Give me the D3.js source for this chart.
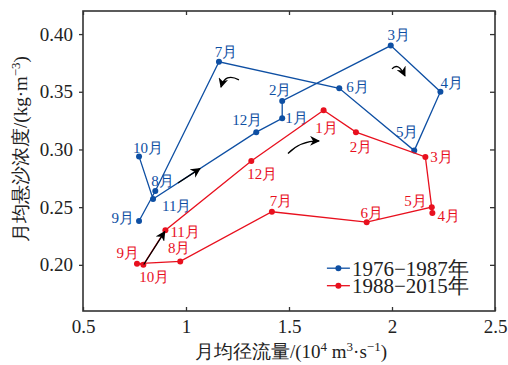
<!DOCTYPE html>
<html>
<head>
<meta charset="utf-8">
<script src="https://cdn.jsdelivr.net/npm/d3@7/dist/d3.min.js"></script>
</head>
<body style="margin:0;background:#fff">
<svg id="chart" width="508" height="365" style="display:block"></svg>
<script>
// Monthly mean runoff (10^4 m3/s) and suspended sediment concentration (kg/m3)
const months = ["1月","2月","3月","4月","5月","6月","7月","8月","9月","10月","11月","12月"];
const flowEarly = [1.467, 1.467, 1.994, 2.235, 2.108, 1.744, 1.160, 0.851, 0.772, 0.772, 0.840, 1.341];
const sscEarly  = [0.327, 0.342, 0.390, 0.350, 0.299, 0.353, 0.376, 0.264, 0.238, 0.294, 0.257, 0.315];
const flowLate  = [1.668, 1.825, 2.162, 2.196, 2.193, 1.877, 1.417, 0.972, 0.762, 0.793, 0.900, 1.317];
const sscLate   = [0.334, 0.315, 0.2935, 0.245, 0.250, 0.237, 0.246, 0.203, 0.201, 0.200, 0.230, 0.290];
// month order along each trajectory (month numbers)
const orderEarly = [10, 11, 12, 1, 2, 3, 4, 5, 6, 7, 8, 9];
const orderLate  = [1, 2, 3, 4, 5, 6, 7, 8, 9, 10, 11, 12, 1];
const seriesNames = ["1976−1987年", "1988−2015年"];
const xTicks = [0.5, 1, 1.5, 2, 2.5];
const xTickLabels = ["0.5", "1", "1.5", "2", "2.5"];
const yTicks = [0.20, 0.25, 0.30, 0.35, 0.40];
const yTickLabels = ["0.20", "0.25", "0.30", "0.35", "0.40"];

// label placement per month: [anchor, dx, dy]
const labelPosEarly = [
  ["start", 3, 5], ["middle", -2, -6], ["middle", 8, -6], ["start", 0, -4],
  ["middle", -7, -14], ["start", 7, 4], ["middle", 7, -5], ["start", -4, -5],
  ["end", -5, 2], ["middle", 9, -3], ["start", 9, 12], ["middle", -9, -7]
];
const labelPosLate = [
  ["middle", 3, 23], ["middle", 5, 20], ["start", 5, 5], ["start", 5, 8],
  ["end", -5, -1], ["middle", 5, -4], ["middle", 9, -6], ["middle", -1, -8],
  ["end", 2, -6], ["middle", 11, 17], ["start", 5, 7], ["start", -4, 18]
];

// direction arrows in data units: [x0, y0, cx, cy, x1, y1] (cx/cy null = straight)
const arrows = [
  [1.257, 0.3603, 1.190, 0.3668, 1.170, 0.3540],
  [2.000, 0.3699, 2.030, 0.3760, 2.063, 0.3638],
  [1.495, 0.2965, 1.555, 0.3075, 1.646, 0.3074],
  [0.961, 0.2709, null, null, 1.068, 0.2834],
  [0.795, 0.2003, null, null, 0.897, 0.2288]
];

const FONT = "Liberation Serif";
const colorEarly = "#0e4fa3";
const colorLate = "#e8101e";
const axisColor = "#333";

const svg = d3.select("#chart");
const margin = { left: 83, right: 13, top: 11, bottom: 54 };
const W = 508, H = 365;
const x = d3.scaleLinear().domain([0.5, 2.5]).range([margin.left, W - margin.right]);
const y = d3.scaleLinear().domain([0.16, 0.42]).range([H - margin.bottom, margin.top]);

const x0 = x.range()[0], x1 = x.range()[1];
const yb = y.range()[0], yt = y.range()[1];

// arrow head marker
const defs = svg.append("defs");
defs.append("marker")
  .attr("id", "head")
  .attr("viewBox", "0 0 10 10")
  .attr("refX", 9).attr("refY", 5)
  .attr("markerWidth", 10).attr("markerHeight", 10)
  .attr("markerUnits", "userSpaceOnUse")
  .attr("orient", "auto")
  .append("path")
  .attr("d", "M0,0 L10,5 L0,10 L3,5 Z")
  .attr("fill", "#000");

// axes
const gx = svg.append("g").attr("transform", `translate(0,${yb})`)
  .call(d3.axisBottom(x).tickValues(xTicks).tickFormat((d, i) => xTickLabels[i]).tickSize(-4).tickPadding(9));
const gxTop = svg.append("g").attr("transform", `translate(0,${yt})`)
  .call(d3.axisTop(x).tickValues(xTicks).tickFormat("").tickSize(-4));
const gy = svg.append("g").attr("transform", `translate(${x0},0)`)
  .call(d3.axisLeft(y).tickValues(yTicks).tickFormat((d, i) => yTickLabels[i]).tickSize(4).tickPadding(6));
const gyR = svg.append("g").attr("transform", `translate(${x1},0)`)
  .call(d3.axisRight(y).tickValues(yTicks).tickFormat("").tickSize(-5));

[gx, gxTop, gy, gyR].forEach(g => {
  g.attr("font-family", null).attr("font-size", null);
  g.select(".domain").remove();
  g.selectAll(".tick line").attr("stroke", axisColor).attr("stroke-width", 1.3);
  g.selectAll(".tick text").attr("fill", "#222").attr("font-size", 19);
});

svg.append("rect")
  .attr("x", x0).attr("y", yt).attr("width", x1 - x0).attr("height", yb - yt)
  .attr("fill", "none").attr("stroke", axisColor).attr("stroke-width", 1.6);

// axis titles
const xt = svg.append("text")
  .attr("x", (x0 + x1) / 2 + 2).attr("y", 358)
  .attr("text-anchor", "middle").attr("fill", "#222").attr("font-size", 19);
xt.append("tspan").text("月均径流量/(10");
xt.append("tspan").attr("dy", -7).attr("font-size", 13).text("4");
xt.append("tspan").attr("dy", 7).text(" m");
xt.append("tspan").attr("dy", -7).attr("font-size", 13).text("3");
xt.append("tspan").attr("dy", 7).text("·s");
xt.append("tspan").attr("dy", -7).attr("font-size", 13).text("−1");
xt.append("tspan").attr("dy", 7).text(")");

const yt2 = svg.append("text")
  .attr("transform", `translate(27,${(yt + yb) / 2 - 12}) rotate(-90)`)
  .attr("text-anchor", "middle").attr("fill", "#222").attr("font-size", 19);
yt2.append("tspan").text("月均悬沙浓度/(kg·m");
yt2.append("tspan").attr("dy", -7).attr("font-size", 13).text("−3");
yt2.append("tspan").attr("dy", 7).text(")");

// trajectories
function drawSeries(flow, ssc, order, color, labelPos) {
  const pts = flow.map((f, i) => ({ m: months[i], x: f, y: ssc[i], i }));
  const line = d3.line().x(d => x(d.x)).y(d => y(d.y));
  svg.append("path")
    .datum(order.map(k => pts[k - 1]))
    .attr("d", line)
    .attr("fill", "none").attr("stroke", color).attr("stroke-width", 1.3);
  svg.append("g").selectAll("circle").data(pts).join("circle")
    .attr("cx", d => x(d.x)).attr("cy", d => y(d.y)).attr("r", 3)
    .attr("fill", color);
  svg.append("g").selectAll("text").data(pts).join("text")
    .attr("x", d => x(d.x) + labelPos[d.i][1])
    .attr("y", d => y(d.y) + labelPos[d.i][2])
    .attr("text-anchor", d => labelPos[d.i][0])
    .attr("fill", color).attr("font-size", 15)
    .text(d => d.m);
}
drawSeries(flowEarly, sscEarly, orderEarly, colorEarly, labelPosEarly);
drawSeries(flowLate, sscLate, orderLate, colorLate, labelPosLate);

// direction arrows
svg.append("g").selectAll("path").data(arrows).join("path")
  .attr("d", a => a[2] === null
    ? `M${x(a[0])},${y(a[1])} L${x(a[4])},${y(a[5])}`
    : `M${x(a[0])},${y(a[1])} Q${x(a[2])},${y(a[3])} ${x(a[4])},${y(a[5])}`)
  .attr("fill", "none").attr("stroke", "#000").attr("stroke-width", 1.3)
  .attr("marker-end", "url(#head)");

// legend
const legend = svg.append("g").attr("transform", `translate(${x(1.684)},${y(0.1971)})`);
[colorEarly, colorLate].forEach((c, i) => {
  const g = legend.append("g").attr("transform", `translate(0,${i * 17.5})`);
  g.append("line").attr("x1", 0).attr("x2", 23).attr("stroke", c).attr("stroke-width", 1.3);
  g.append("circle").attr("cx", 11.5).attr("r", 3).attr("fill", c);
  g.append("text").attr("x", 25).attr("y", 7.5).attr("fill", "#222")
    .attr("font-size", 21).text(seriesNames[i]);
});

// serif face for every label
svg.selectAll("text").attr("font-family", FONT);
</script>
</body>
</html>
